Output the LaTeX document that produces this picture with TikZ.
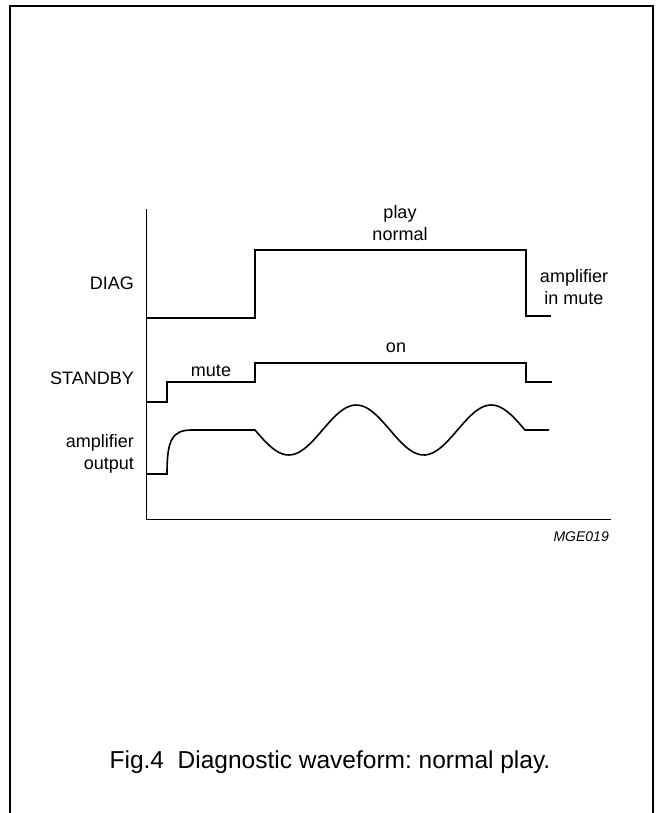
\documentclass[tikz,border=0pt]{standalone}
\usepackage{fontspec}
\setmainfont{Liberation Sans}
\usepackage{tikz}
\usetikzlibrary{positioning,calc}
\frenchspacing

\begin{document}
\begin{tikzpicture}[
    x=1pt, y=-1pt,
    trace/.style={line width=1.6pt, line join=miter},
    axis/.style={line width=0.9pt},
    lbl/.style={inner sep=0pt, font=\fontsize{18}{22.5}\selectfont, align=center},
    frame/.style={line width=1.6pt}
]
    \useasboundingbox (0,0) rectangle (656,813);

    % Frame
    \draw[frame] (10,813) -- (10,6) -- (653,6) -- (653,813);

    % Axes
    \draw[axis] (146,209) -- (146,519) -- (611,519);

    % DIAG
    \draw[trace] (146,318) -- (255,318) -- (255,250) -- (526,250) -- (526,316) -- (551,316);

    % STANDBY
    \draw[trace] (146,402) -- (167,402) -- (167,382) -- (255,382) -- (255,363)
        -- (526,363) -- (526,382) -- (552,382);

    % Amplifier output
    \draw[trace] (146,474) -- (167,474) .. controls (167,440) and (172,430) .. (192,430)
        -- (255,430)
        -- plot[domain=255:525, samples=90] (\x, {430+25*sin((\x-255)*8/3)})
        -- (549,430);

    % Signal names
    \node[lbl, anchor=east] (diag) at (134,283) {DIAG};
    \node[lbl, anchor=east] (standby) at (134,378) {STANDBY};
    \node[lbl, anchor=east, align=right] (ampout) at (134,454) {amplifier\\output};

    % States
    \node[lbl] (playnormal) at (400,223) {play\\normal};
    \node[lbl] (ampmute) at (574,287) {amplifier\\in mute};
    \node[lbl] (mute) at (211,371) {mute};
    \node[lbl] (on) at (396,348) {on};

    \node[inner sep=0pt, anchor=east, font=\fontsize{14}{16}\selectfont\itshape] (code) at (609,537) {MGE019};

    \node[inner sep=0pt, font=\fontsize{24.5}{28}\selectfont] (caption) at (330,762)
        {Fig.4\ \ Diagnostic waveform: normal play.};
\end{tikzpicture}
\end{document}
